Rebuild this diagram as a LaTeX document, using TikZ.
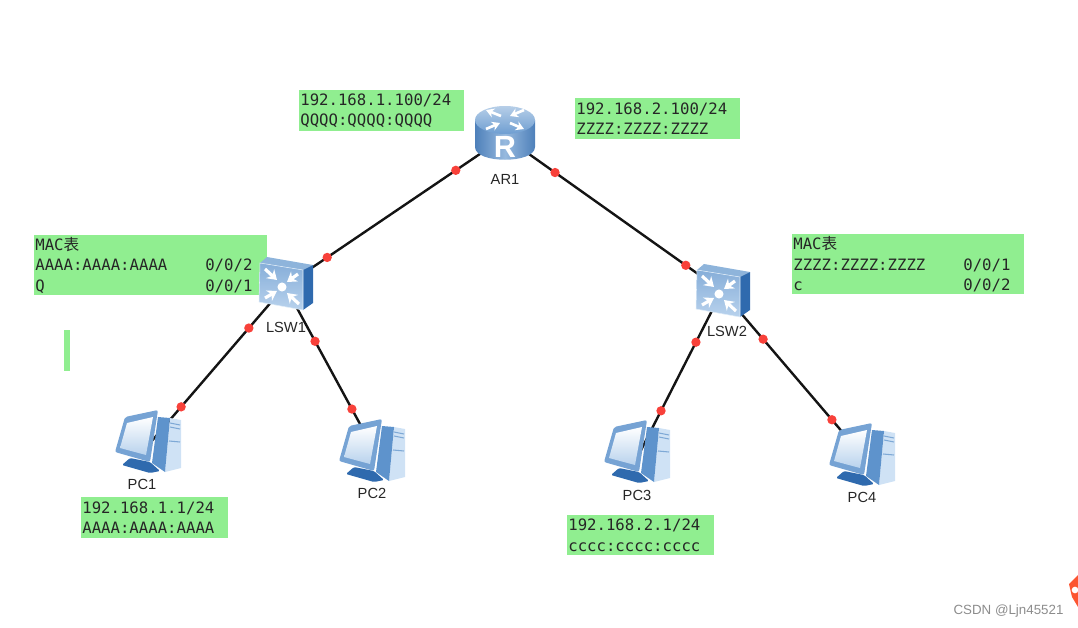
\documentclass[tikz,border=0pt]{standalone}
\usepackage{fontspec}
\setmainfont{Liberation Sans}
\newfontfamily\boxfont{DejaVu Sans Mono}
\newfontfamily\cjkfont{Noto Sans CJK SC}
\usetikzlibrary{arrows.meta}

\definecolor{boxgreen}{HTML}{90EE90}
\definecolor{linkred}{HTML}{F8413A}
\definecolor{iconblue}{HTML}{5E93CC}
\definecolor{icondark}{HTML}{2F6AAE}
\definecolor{iconlight}{HTML}{CFE2F5}
\definecolor{cornerorange}{HTML}{FC5531}

\newcommand{\portcol}[1]{\makebox[127.5pt][l]{#1}}

\tikzset{
    greenbox/.style 2 args={fill=boxgreen, anchor=north west, align=left, inner xsep=0.8pt, inner ysep=0pt,
        text width=#1*0.75pt-1.6pt, minimum height=#2*0.75pt, text=black!85,
        font=\boxfont\fontsize{11.75}{15.4}\selectfont},
    spot/.style={inner sep=0pt, minimum size=0pt},
    devtext/.style={font=\fontsize{11}{13}\selectfont, text=black!85},
    link/.style={line width=1.8pt, black!92},
    dot/.style={circle, fill=linkred, inner sep=0pt, minimum size=7pt},
    router/.pic={
        \shade[left color=icondark!85, right color=icondark!85, middle color=iconblue!65] (-30,-17) -- (-30,10) .. controls (-30,27) and (30,27) .. (30,10) -- (30,-17) -- cycle;
        \shade[top color=iconblue!45, bottom color=iconblue!90] (0,-17) ellipse [x radius=30, y radius=14];
        \foreach \fx/\fy/\tx/\ty in {-4/-21/-19/-27, 19/-27/5/-21, -19/-8/-5/-14, 5/-14/19/-8}
            \draw[white, line width=2pt, -{Stealth[length=6pt, width=7pt]}] (\fx,\fy) -- (\tx,\ty);
        \node[text=white, font=\bfseries\fontsize{23}{23}\selectfont] (-r) at (0,10) {R};
    },
    switch/.pic={
        \fill[iconblue!70] (-25,-21) -- (-18,-27) -- (28,-19) -- (18,-14) -- cycle;
        \fill[icondark] (18,-14) -- (28,-19) -- (28,19) -- (18,26) -- cycle;
        \shade[top color=iconblue!75, bottom color=iconlight!80!iconblue, draw=iconlight!60] (-25,-21) -- (18,-14) -- (18,26) -- (-26,18) -- cycle;
        \foreach \fx/\fy/\tx/\ty in {-20/-15/-8/-4, 13/-10/2/-2, -20/14/-8/7, 14/20/2/9}
            \draw[white, line width=2.4pt, -{Stealth[length=7pt, width=9pt]}] (\fx,\fy) -- (\tx,\ty);
        \fill[white] (-3,3) circle [radius=3.4pt];
    },
    pc/.pic={
        \fill[iconlight] (22,-24) -- (33,-22) -- (33,26) -- (17,30) -- cycle;
        \fill[iconblue] (10,-25) -- (22,-24) -- (17,30) -- (4,21) -- cycle;
        \draw[iconblue!80, line width=.8pt] (22,-19) -- (32,-17) (22,-15) -- (32,-13) (21,-1) -- (32,0);
        \fill[icondark, rounded corners=1pt] (-18,16) -- (-26,23) -- (2,31) -- (12,29) -- (2,20) -- cycle;
        \fill[iconblue!85, rounded corners=1.5pt] (-23,-25) -- (10,-32) -- (2,20) -- (-33,10) -- cycle;
        \shade[top color=white, bottom color=iconlight!80!iconblue] (-21,-19) -- (5,-25) -- (-2,13) -- (-28,6) -- cycle;
    },
}

\begin{document}
\begin{tikzpicture}[x=0.75pt, y=-0.75pt]
    \useasboundingbox (0,0) rectangle (1078,628);

    % green notes
    \node[greenbox={165}{41}] (noteleft) at (299,90) {192.168.1.100/24\\QQQQ:QQQQ:QQQQ};
    \node[greenbox={165}{41}] (noteright) at (575,98) {192.168.2.100/24\\ZZZZ:ZZZZ:ZZZZ};
    \node[greenbox={233}{60}] (macone) at (34,235) {MAC{\cjkfont 表}\\\portcol{AAAA:AAAA:AAAA}0/0/2\\\portcol{Q}0/0/1};
    \node[greenbox={232}{60}] (mactwo) at (792,234) {MAC{\cjkfont 表}\\\portcol{ZZZZ:ZZZZ:ZZZZ}0/0/1\\\portcol{c}0/0/2};
    \node[greenbox={147}{41}] (noteone) at (81,497) {192.168.1.1/24\\AAAA:AAAA:AAAA};
    \node[greenbox={147}{40}] (notethree) at (567,515) {192.168.2.1/24\\cccc:cccc:cccc};
    \fill[boxgreen] (64,330) rectangle (70,371);

    % devices
    \node[spot] (AR1) at (505,137) {};
    \node[spot] (LSW1) at (285,286) {};
    \node[spot] (LSW2) at (722,291) {};
    \node[spot] (PC1) at (148,445.4) {};
    \node[spot] (PC2) at (372,446) {};
    \node[spot] (PC3) at (637,458) {};
    \node[spot] (PC4) at (862,455) {};

    % links
    \draw[link] (AR1) -- node[dot, pos=.223] (d1) {} node[dot, pos=.809] (d2) {} (LSW1);
    \draw[link] (AR1) -- node[dot, pos=.23] (d3) {} node[dot, pos=.834] (d4) {} (LSW2);
    \draw[link] (LSW1) -- node[dot, pos=.263] (d5) {} node[dot, pos=.759] (d6) {} (PC1);
    \draw[link] (LSW1) -- node[dot, pos=.345] (d7) {} node[dot, pos=.77] (d8) {} (PC2);
    \draw[link] (LSW2) -- node[dot, pos=.306] (d9) {} node[dot, pos=.718] (d10) {} (PC3);
    \draw[link] (LSW2) -- node[dot, pos=.293] (d11) {} node[dot, pos=.786] (d12) {} (PC4);

    \pic at (AR1) {router};
    \pic at (285,284) {switch};
    \pic at (LSW2) {switch};
    \pic at (148,442) {pc};
    \pic at (372,451) {pc};
    \pic at (637,452) {pc};
    \pic at (862,455) {pc};

    \node[devtext] (AR1text) at (505,179) {AR1};
    \node[devtext] (LSW1text) at (286,327) {LSW1};
    \node[devtext] (LSW2text) at (727,331) {LSW2};
    \node[devtext] (PC1text) at (142,484) {PC1};
    \node[devtext] (PC2text) at (372,493) {PC2};
    \node[devtext] (PC3text) at (637,495) {PC3};
    \node[devtext] (PC4text) at (862,497) {PC4};

    % corner
    \fill[cornerorange] (1078,575) -- (1069,584) -- (1072,597) -- (1078,607) -- cycle;
    \fill[white] (1075,590) circle [radius=2.5pt];
    \node[text=black!45, font=\fontsize{10}{12}\selectfont] (mark) at (1008.5,611) {CSDN @Ljn45521};
\end{tikzpicture}
\end{document}
